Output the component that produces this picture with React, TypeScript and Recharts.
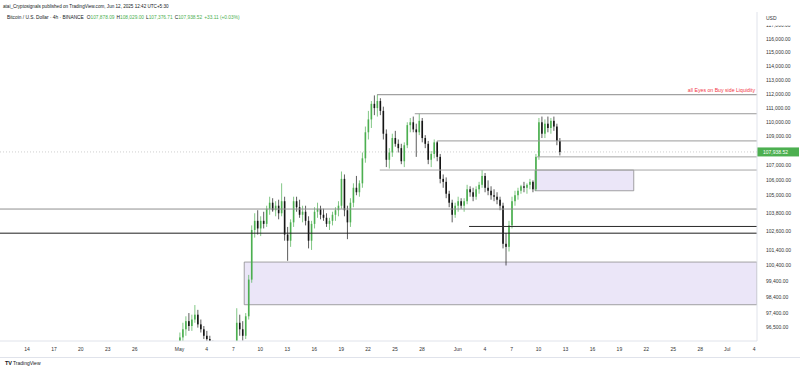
import React from "react";
import { ComposedChart, Bar, XAxis, YAxis, ReferenceLine, ReferenceArea } from "recharts";

// 8h candles, day numbers counted from May 1 (first candle = Apr 30, 08:00)
const firstCandleDay = -2 / 3;

const opens = [
  94300, 94600, 94800, 95900, 96400, 96900, 96600, 97000, 97300, 96700, 96400, 96000, 95800, 95500, 95300, 95000,
  94500, 94300, 94600, 94800, 94700, 95300, 96800, 96400, 96000, 97200, 99500, 102700, 103300, 102800, 103300, 103100,
  104100, 104500, 104000, 104300, 103800, 104600, 102400, 102000, 103200, 104600, 104200, 103700, 103900, 103300, 102000, 103100,
  103900, 104100, 103700, 103500, 103100, 103300, 103700, 104000, 104300, 106100, 104000, 103200, 104500, 105500, 105200, 105800,
  107500, 109300, 110200, 111300, 111000, 111500, 110800, 109200, 107400, 107900, 108900, 108500, 108200, 107300, 108400, 109800,
  110000, 109500, 109300, 110100, 108900, 108500, 107400, 107800, 108600, 107600, 106100, 105900, 105100, 104500, 103700, 104300,
  104600, 104300, 104600, 105400, 105200, 104900, 105400, 105700, 106300, 105500, 105300, 105000, 104900, 104700, 104300, 101800,
  101600, 103000, 104600, 105000, 105300, 105600, 105500, 105700, 105900, 105400, 107600, 110000, 109200, 109900, 109600, 110100,
  109700, 108700,
];
const highs = [
  95000, 95300, 96200, 96800, 97200, 97400, 97300, 97900, 97600, 97000, 96600, 96300, 96000, 95700, 95500, 95200,
  94800, 94900, 95100, 95200, 95600, 97700, 97300, 96900, 97400, 99800, 103000, 103800, 104000, 103600, 103900, 104300,
  104900, 104800, 104600, 104700, 105800, 104900, 102900, 103400, 104900, 104900, 104700, 104300, 104300, 103600, 103300, 104200,
  104500, 104300, 104100, 103800, 103500, 103900, 104200, 104600, 106600, 106400, 104300, 104800, 105800, 106300, 106000, 107900,
  109700, 110800, 111500, 111900, 111950, 111700, 111100, 109500, 108200, 109200, 109400, 108800, 108500, 108600, 110000, 110300,
  110400, 109900, 110600, 110300, 109100, 108700, 108000, 108800, 108700, 107800, 106400, 106200, 105300, 104700, 104500, 104900,
  104800, 104800, 105700, 105600, 105500, 105600, 105900, 106700, 106500, 106000, 105600, 105400, 105200, 104900, 104500, 102500,
  103300, 104900, 105300, 105500, 105700, 105900, 105800, 106100, 106000, 107800, 110300, 110400, 110200, 110400, 110300, 110400,
  109900, 108900,
];
const lows = [
  93900, 94200, 94500, 95600, 96000, 96300, 96300, 96800, 96500, 96200, 95800, 95600, 95300, 95000, 94800, 94300,
  94000, 93600, 94200, 94300, 94400, 95100, 96000, 95700, 95800, 97000, 99300, 102200, 102400, 102300, 102800, 102900,
  103700, 103900, 103600, 103400, 103600, 102000, 100700, 101600, 102900, 103900, 103500, 103200, 103000, 101500, 101400, 102800,
  103500, 103400, 103300, 102900, 102700, 103000, 103300, 103600, 104100, 103600, 102100, 102900, 104200, 105000, 104900, 105500,
  107200, 108800, 109600, 110500, 110400, 110500, 108800, 106900, 106800, 107600, 108300, 107900, 107100, 106900, 108200, 109300,
  109300, 107600, 109100, 108600, 108200, 107100, 106900, 107500, 107300, 105800, 105500, 104800, 104200, 103200, 103500, 103900,
  104100, 103900, 104400, 104900, 104600, 104700, 105100, 105500, 105200, 105000, 104700, 104600, 104400, 104000, 101500, 100400,
  101300, 102800, 104300, 104700, 105100, 105200, 105100, 105400, 105200, 105300, 107400, 108900, 108900, 109300, 109200, 109400,
  108400, 107700,
];
const closes = [
  94600, 94800, 95900, 96400, 96900, 96600, 97000, 97300, 96700, 96400, 96000, 95800, 95500, 95300, 95000, 94500,
  94300, 94600, 94800, 94700, 95300, 96800, 96400, 96000, 97200, 99500, 102700, 103300, 102800, 103300, 103100, 104100,
  104500, 104000, 104300, 103800, 104600, 102400, 102000, 103200, 104600, 104200, 103700, 103900, 103300, 102000, 103100, 103900,
  104100, 103700, 103500, 103100, 103300, 103700, 104000, 104300, 106100, 104000, 103200, 104500, 105500, 105200, 105800, 107500,
  109300, 110200, 111300, 111000, 111500, 110800, 109200, 107400, 107900, 108900, 108500, 108200, 107300, 108400, 109800, 110000,
  109500, 109300, 110100, 108900, 108500, 107400, 107800, 108600, 107600, 106100, 105900, 105100, 104500, 103700, 104300, 104600,
  104300, 104600, 105400, 105200, 104900, 105400, 105700, 106300, 105500, 105300, 105000, 104900, 104700, 104300, 101800, 101600,
  103000, 104600, 105000, 105300, 105600, 105500, 105700, 105900, 105400, 107600, 110000, 109200, 109900, 109600, 110100, 109700,
  108700, 107938.52,
];

const xTickDays = [-17, -14, -11, -8, -5, 0, 3, 6, 9, 12, 15, 18, 21, 24, 27, 31, 34, 37, 40, 43, 46, 49, 52, 55, 58, 61, 64];
const xTickLabels = ["14", "17", "20", "23", "26", "May", "4", "7", "10", "13", "16", "19", "22", "25", "28",
  "Jun", "4", "7", "10", "13", "16", "19", "22", "25", "28", "Jul", "4"];

const yTicks = [117000, 116000, 115000, 114000, 113000, 112000, 111000, 110000, 109000, 107000, 106000, 105000,
  103800, 102600, 101400, 100400, 99400, 98400, 97400, 96500];

const lastPrice = 107938.52;

// drawn levels: price, day they start from (null = whole width)
const levelPrices = [111950, 110600, 108700, 107600, 106700, 104080, 102930, 102490];
const levelStarts = [22.0, 26.2, 28.7, 39.8, 22.3, null, 32.25, null];
const levelColors = ["#8a8a8a", "#9a9a9a", "#9a9a9a", "#a5a5a5", "#a5a5a5", "#8f8f8f", "#2a2a2a", "#1e1e1e"];

// boxes: start day, end day (null = right edge), low, high
const zoneStarts = [39.6, 7.2];
const zoneEnds = [50.6, null];
const zoneLows = [105300, 97920];
const zoneHighs = [106700, 100620];

const xMin = -20.01;
const xMax = 64.33;
const yMin = 95681;
const yMax = 118012;

const UP = "#4caf50";
const DOWN = "#151515";

const candles = opens.map((o, i) => ({
  t: firstCandleDay + i / 3,
  open: o,
  high: highs[i],
  low: lows[i],
  close: closes[i],
  range: [lows[i], highs[i]],
}));

const fmt = (v: number) => v.toLocaleString("en-US", { minimumFractionDigits: 2, maximumFractionDigits: 2 });

const Candle = (props: any) => {
  const { x, y, width, height, payload } = props;
  if (x == null || y == null || !payload) return null;
  const { open, close, high, low } = payload;
  const lh = Math.log(high);
  const ll = Math.log(low);
  const py = (p: number) => y + (height * (lh - Math.log(p))) / (lh - ll);
  const color = close >= open ? UP : DOWN;
  const top = py(Math.max(open, close));
  const bot = py(Math.min(open, close));
  const cx = x + width / 2;
  return (
    <g>
      <line x1={cx} x2={cx} y1={y} y2={y + height} stroke={color} strokeWidth={0.7} />
      <rect x={x} y={top} width={width} height={Math.max(bot - top, 0.7)} fill={color} />
    </g>
  );
};

const PriceTag = (props: any) => {
  const vb = props.viewBox;
  if (!vb) return null;
  const x = vb.x + vb.width;
  return (
    <g>
      <rect x={x} y={vb.y - 4.5} width={42} height={9} fill={UP} />
      <text x={x + 6} y={vb.y + 1.8} fontSize={5} fill="#fff">{fmt(lastPrice)}</text>
    </g>
  );
};

const NoteTag = (props: any) => {
  const vb = props.viewBox;
  if (!vb) return null;
  return (
    <text x={vb.x + vb.width - 2} y={vb.y - 3} fontSize={5.2} fill="#f23645" textAnchor="end">
      all Eyes on Buy side Liquidity
    </text>
  );
};

const App = () => {
  return (
    <div style={{ position: "absolute", left: 0, top: 0, width: 800, height: 370, background: "#fff", fontFamily: "Liberation Sans, Arial, sans-serif" }}>
      <ComposedChart width={800} height={370} data={candles} margin={{ top: 12, right: 0, left: 0, bottom: 13 }}>
        <XAxis
          type="number"
          dataKey="t"
          domain={[xMin, xMax]}
          allowDataOverflow
          ticks={xTickDays}
          interval={0}
          tickFormatter={(v: number) => xTickLabels[xTickDays.indexOf(v)]}
          height={16}
          tickLine={false}
          tickSize={0}
          tickMargin={6}
          axisLine={{ stroke: "#e0e3eb" }}
          tick={{ fontSize: 5, fill: "#333" }}
        />
        <YAxis
          orientation="right"
          scale="log"
          domain={[yMin, yMax]}
          allowDataOverflow
          ticks={yTicks}
          interval={0}
          tickFormatter={fmt}
          width={43}
          tickLine={false}
          tickSize={0}
          tickMargin={9}
          axisLine={{ stroke: "#e0e3eb" }}
          tick={{ fontSize: 5, fill: "#333", textAnchor: "start" }}
        />
        {zoneLows.map((lo, i) => (
          <ReferenceArea
            key={`zone-${i}`}
            x1={zoneStarts[i]}
            x2={zoneEnds[i] ?? xMax}
            y1={lo}
            y2={zoneHighs[i]}
            fill="#ebe6f8"
            fillOpacity={1}
            stroke="#8c8c8c"
            strokeWidth={0.8}
            ifOverflow="hidden"
          />
        ))}
        {levelPrices.map((p, i) => (
          <ReferenceLine
            key={`lvl-${i}`}
            segment={[{ x: levelStarts[i] ?? xMin, y: p }, { x: xMax, y: p }]}
            stroke={levelColors[i]}
            strokeWidth={1}
            ifOverflow="hidden"
            label={i === 0 ? <NoteTag /> : undefined}
          />
        ))}
        <ReferenceLine
          y={lastPrice}
          stroke="#c4c4c4"
          strokeDasharray="1 2"
          strokeWidth={0.8}
          label={<PriceTag />}
        />
        <Bar dataKey="range" barSize={1.6} shape={<Candle />} isAnimationActive={false} />
      </ComposedChart>
      <svg width={800} height={370} style={{ position: "absolute", left: 0, top: 0, pointerEvents: "none" }}>
        <text x={3} y={8} fontSize={4.6} fill="#131722">
          atai_Cryptosignals published on TradingView.com, Jun 12, 2025 12:42 UTC+5:30
        </text>
        <text x={7} y={19} fontSize={4.8} fill="#131722">
          Bitcoin / U.S. Dollar · 4h · BINANCE
          <tspan dx={3}>O</tspan><tspan fill={UP}>107,878.09</tspan>
          <tspan dx={2}>H</tspan><tspan fill={UP}>108,029.00</tspan>
          <tspan dx={2}>L</tspan><tspan fill={UP}>107,376.71</tspan>
          <tspan dx={2}>C</tspan><tspan fill={UP}>107,938.52</tspan>
          <tspan dx={2} fill={UP}>+33.11 (+0.03%)</tspan>
        </text>
        <rect x={758} y={12} width={42} height={13.5} fill="#fff" />
        <text x={766} y={20} fontSize={5} fill="#333">USD</text>
        <line x1={0} x2={800} y1={357.5} y2={357.5} stroke="#e0e3eb" />
        <text x={5} y={365} fontSize={5.5} fill="#131722" fontWeight="bold">TV</text>
        <text x={13} y={365} fontSize={5} fill="#131722">TradingView</text>
      </svg>
    </div>
  );
};

export default App;
